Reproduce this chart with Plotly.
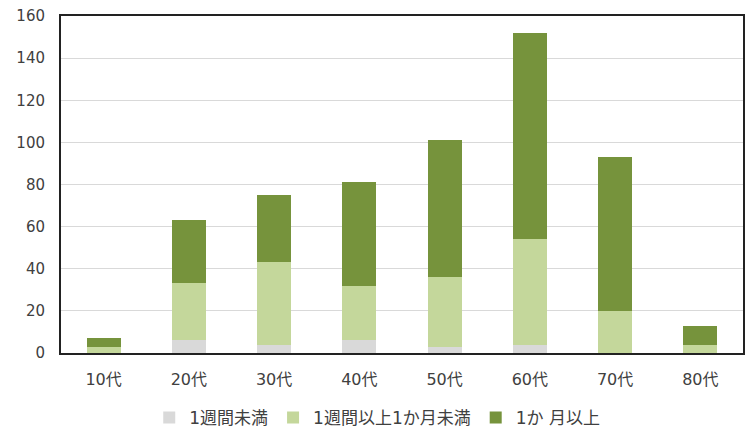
import plotly.graph_objects as go

categories = ["10代", "20代", "30代", "40代", "50代", "60代", "70代", "80代"]
under_1week = [0, 6, 4, 6, 3, 4, 0, 0]
week_to_month = [3, 27, 39, 26, 33, 50, 20, 4]
over_1month = [4, 30, 32, 49, 65, 98, 73, 9]
series_names = ["1週間未満", "1週間以上1か月未満", "1か 月以上"]
y_ticks = [0, 20, 40, 60, 80, 100, 120, 140, 160]

colors = ["#d9d9d9", "#c4d79b", "#76933c"]
font_family = "DejaVu Sans, Noto Sans CJK JP, sans-serif"
text_color = "#404040"

fig = go.Figure()
for name, vals, col in zip(series_names, [under_1week, week_to_month, over_1month], colors):
    fig.add_trace(go.Bar(x=categories, y=vals, name=name, marker=dict(color=col, line=dict(width=0))))

fig.update_layout(
    barmode="stack",
    bargap=0.6,
    width=747,
    height=432,
    margin=dict(l=61, r=4, t=16, b=79),
    plot_bgcolor="white",
    paper_bgcolor="white",
    font=dict(family=font_family, size=16, color=text_color),
    showlegend=True,
    legend=dict(
        orientation="h",
        xref="container",
        yref="container",
        x=0.505,
        xanchor="center",
        y=(432 - 418) / 432,
        yanchor="middle",
        font=dict(size=17, color=text_color),
        itemwidth=30,
        traceorder="normal",
    ),
)
fig.update_xaxes(
    showline=True, linecolor="#222222", linewidth=2, mirror=True,
    ticks="", ticklabelstandoff=11, showgrid=False, automargin=False,
)
fig.update_yaxes(
    range=[0, 160], tickvals=y_ticks,
    showline=True, linecolor="#222222", linewidth=2, mirror=True,
    gridcolor="#d9d9d9", gridwidth=1, zeroline=False,
    ticks="", ticklabelstandoff=11, automargin=False,
    tickfont=dict(size=15),
)

fig.write_html("out.html")
